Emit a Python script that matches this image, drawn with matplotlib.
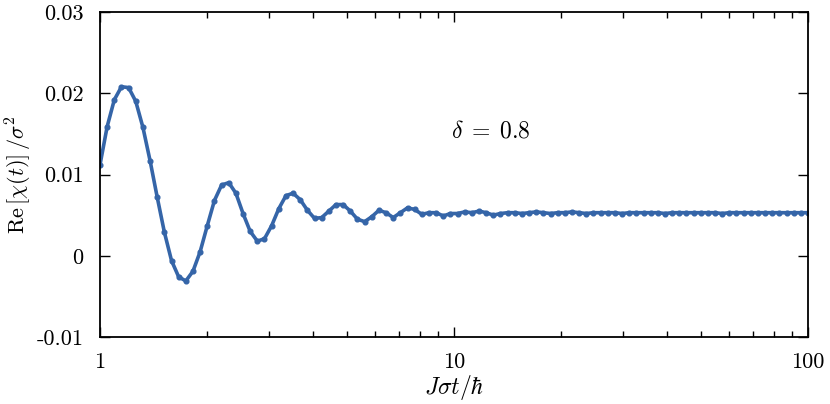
import numpy as np
import matplotlib
matplotlib.use("Agg")
import matplotlib.pyplot as plt
from matplotlib.ticker import FixedLocator, LogLocator, NullFormatter

plt.rcParams["mathtext.fontset"] = "cm"
plt.rcParams["font.family"] = "serif"
plt.rcParams["font.serif"] = ["cmr10", "DejaVu Serif"]
plt.rcParams["axes.formatter.use_mathtext"] = True

# time axis: 100 log-spaced samples from 1 to 100
t = np.logspace(0, 2, 100)

# Re[chi(t)]/sigma^2
chi_re = [
    0.0112, 0.0159, 0.0192, 0.0208, 0.0207, 0.0190, 0.0158, 0.0117, 0.0072, 0.0029,
    -0.0006, -0.0026, -0.0031, -0.0019, 0.0005, 0.0037, 0.0068, 0.0087, 0.0090, 0.0077,
    0.0052, 0.0030, 0.0018, 0.0021, 0.0037, 0.0058, 0.0074, 0.0077, 0.0069, 0.0056,
    0.0046, 0.0047, 0.0055, 0.0063, 0.0063, 0.0055, 0.0045, 0.0042, 0.0048, 0.0056,
    0.0053, 0.0047, 0.0053, 0.0059, 0.0057, 0.0051, 0.0053, 0.0053, 0.0049, 0.0052,
    0.0052, 0.0054, 0.0053, 0.0055, 0.0053, 0.0050, 0.0052, 0.0053, 0.0053, 0.0052,
    0.0053, 0.0054, 0.0053, 0.0052, 0.0053, 0.0053, 0.0054, 0.0053, 0.0052, 0.0053,
    0.0053, 0.0053, 0.0053, 0.0052, 0.0053, 0.0053, 0.0053, 0.0053, 0.0053, 0.0052,
    0.0053, 0.0053, 0.0053, 0.0053, 0.0053, 0.0053, 0.0053, 0.0052, 0.0053, 0.0053,
    0.0053, 0.0053, 0.0053, 0.0053, 0.0053, 0.0053, 0.0053, 0.0053, 0.0053, 0.0053,
]

y_ticks = [-0.01, 0, 0.01, 0.02, 0.03]
y_labels = ["-0.01", "0", "0.01", "0.02", "0.03"]
x_ticks = [1, 10, 100]
x_labels = ["1", "10", "100"]

fig = plt.figure(figsize=(8.3, 4.04), dpi=100)
ax = fig.add_axes([0.1205, 0.1658, 0.8530, 0.8045])

ax.plot(t, chi_re, color="#3565a8", lw=2.6, marker="o", ms=3.4,
        solid_capstyle="round", solid_joinstyle="round")

ax.set_xscale("log")
ax.set_xlim(1, 100)
ax.set_ylim(-0.01, 0.03)

ax.xaxis.set_major_locator(FixedLocator(x_ticks))
ax.set_xticklabels(x_labels)
ax.xaxis.set_minor_locator(LogLocator(base=10, subs=np.arange(2, 10)))
ax.xaxis.set_minor_formatter(NullFormatter())
ax.set_yticks(y_ticks)
ax.set_yticklabels(y_labels)

ax.tick_params(which="both", direction="in", top=True, right=True,
               labelsize=16, width=1.0)
ax.tick_params(which="major", length=7)
ax.tick_params(axis="y", which="major", pad=12)
ax.tick_params(axis="x", which="major", pad=11)
ax.tick_params(which="minor", length=4)
for s in ax.spines.values():
    s.set_linewidth(1.3)

ax.set_xlabel(r"$J\sigma t/\hbar$", fontsize=17, labelpad=1)
ax.set_ylabel(r"$\mathrm{Re}\,[\chi(t)]\,/\sigma^2$", fontsize=16)
ax.yaxis.set_label_coords(-0.093, 0.5)

ax.text(0.552, 0.631, r"$\delta\;=\;0.8$", transform=ax.transAxes,
        fontsize=17, ha="center", va="center")

fig.savefig("out.png", dpi=100)
